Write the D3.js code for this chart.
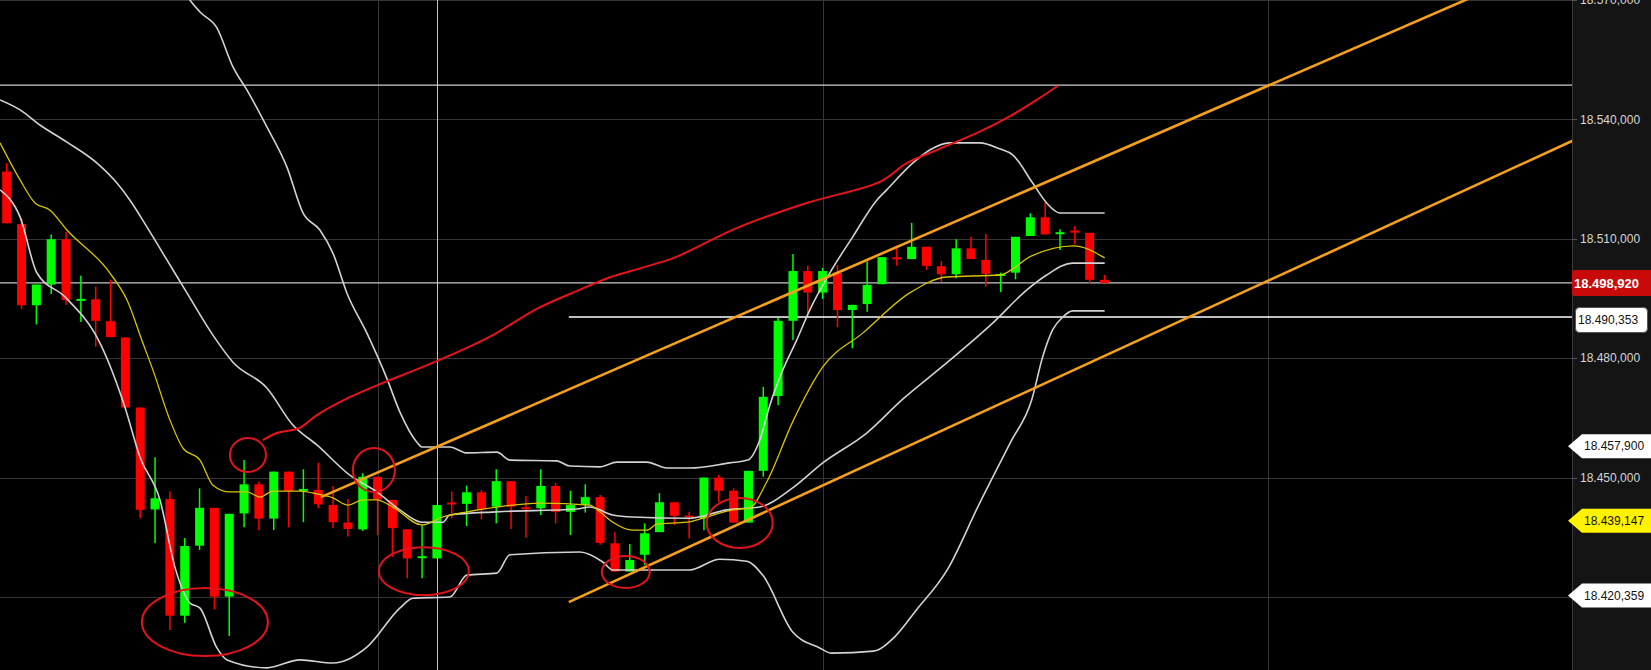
<!DOCTYPE html>
<html><head><meta charset="utf-8">
<script src="https://cdn.jsdelivr.net/npm/d3@7"></script>
<style>html,body{margin:0;padding:0;background:#000;overflow:hidden}</style>
</head><body><svg id="c" width="1651" height="670"></svg>
<script>
// ---------- data ----------
const opens  = [18526.9,18513.7,18493.3,18498.5,18509.9,18494.5,18494.8,18489.3,18485.2,18467.6,
18442.0,18444.6,18415.3,18432.9,18442.4,18420.1,18441.0,18448.3,18439.7,18451.5,
18446.8,18446.9,18443.1,18438.7,18437.0,18450.2,18444.4,18437.0,18429.8,18429.7,
18443.6,18443.4,18446.3,18442.7,18449.1,18442.4,18442.3,18447.9,18441.4,18443.1,
18445.1,18433.5,18426.4,18430.6,18436.3,18443.8,18440.3,18439.8,18450.0,18446.7,
18438.7,18451.7,18470.5,18489.4,18501.9,18496.5,18501.5,18492.1,18493.6,18498.6,
18505.2,18504.9,18508.0,18503.1,18501.1,18507.6,18504.7,18500.8,18501.5,18510.7,
18515.4,18511.3,18511.9,18511.5,18499.7];
const highs  = [18529.0,18515.2,18498.5,18511.1,18511.8,18500.7,18498.0,18499.7,18485.3,18467.6,
18455.1,18446.5,18434.8,18447.3,18442.4,18440.9,18454.4,18449.0,18451.5,18451.5,
18452.1,18453.7,18447.9,18444.6,18451.1,18450.2,18444.4,18437.0,18438.1,18443.1,
18446.5,18448.0,18446.9,18452.1,18449.1,18445.4,18452.1,18448.6,18446.7,18448.3,
18445.6,18436.3,18433.3,18438.5,18446.1,18443.8,18441.4,18450.0,18450.7,18447.3,
18451.7,18472.8,18490.1,18506.2,18503.2,18502.7,18503.4,18493.4,18504.3,18505.4,
18508.4,18514.0,18508.0,18504.4,18509.9,18510.5,18511.2,18501.5,18510.5,18516.4,
18519.3,18512.4,18513.2,18511.5,18500.9];
const lows   = [18513.9,18492.4,18488.5,18496.1,18493.4,18489.1,18482.9,18485.3,18467.6,18439.8,
18433.5,18411.7,18413.5,18431.8,18416.9,18410.2,18437.5,18436.8,18436.8,18437.5,
18438.8,18442.3,18437.3,18435.2,18436.6,18435.6,18430.1,18424.7,18424.7,18429.7,
18439.8,18437.8,18439.5,18438.5,18437.1,18434.9,18440.6,18438.5,18435.6,18441.2,
18433.1,18426.4,18426.4,18428.0,18436.3,18438.1,18434.7,18436.8,18443.9,18438.7,
18438.7,18450.2,18468.2,18484.6,18491.0,18494.9,18487.8,18482.5,18491.7,18498.6,
18503.2,18504.9,18502.2,18499.2,18500.1,18504.9,18498.0,18496.6,18499.8,18510.7,
18511.1,18507.2,18508.6,18498.8,18498.8];
const closes = [18513.9,18493.3,18498.5,18509.9,18494.6,18494.8,18489.4,18485.3,18467.6,18441.9,
18444.8,18415.3,18432.8,18442.4,18420.1,18440.9,18448.3,18439.7,18451.5,18446.6,
18447.0,18443.3,18438.8,18437.1,18450.2,18444.5,18437.3,18429.7,18430.2,18443.1,
18443.4,18446.3,18442.1,18449.1,18442.7,18442.2,18447.9,18441.4,18443.1,18445.1,
18433.6,18426.4,18429.3,18436.0,18443.8,18440.4,18440.1,18450.0,18446.7,18438.7,
18451.7,18470.3,18489.4,18501.9,18496.5,18501.9,18492.1,18493.4,18498.4,18505.4,
18505.0,18508.0,18503.2,18501.1,18507.6,18504.9,18501.2,18501.0,18510.5,18515.4,
18511.1,18511.5,18511.7,18499.7,18498.92];

// indicator lines: [bar index, price]
const upperBand = [[11.34,18576.3],[12.35,18570.0],[13.03,18567.0],[14.17,18563.0],[15.25,18553.2],[16.19,18547.4],
[17.54,18538.1],[18.89,18528.0],[19.97,18516.5],[21.11,18512.2],[21.99,18506.4],[22.93,18496.4],[24.28,18486.3],
[25.62,18475.0],[26.5,18466.5],[27.65,18458.9],[27.99,18457.7],[29.87,18457.7],[31.02,18456.2],[33.04,18456.4],
[33.92,18454.4],[37.08,18454.2],[37.96,18452.9],[39.98,18452.7],[41.13,18453.9],[43.15,18453.9],[44.5,18452.4],
[46.04,18452.4],[48.74,18453.7],[49.95,18454.4],[50.76,18459.4],[51.44,18468.2],[52.31,18477.0],[53.26,18484.6],
[54.13,18492.1],[55.48,18501.4],[57.03,18510.5],[58.65,18519.7],[59.32,18522.3],[61.07,18529.0],[62.22,18532.3],
[63.56,18534.1],[65.59,18534.1],[66.93,18532.6],[67.81,18531.1],[69.16,18524.0],[70.1,18519.0],[70.98,18516.5],
[74.01,18516.5]];
const middleBand = [[-0.45,18544.9],[0.9,18542.4],[2.24,18538.6],[4.06,18534.3],[6.09,18529.0],[7.43,18524.0],
[8.31,18519.7],[9.45,18513.0],[10.8,18504.7],[12.15,18496.4],[13.9,18485.8],[15.25,18479.0],[17.54,18472.5],
[19.29,18463.2],[20.91,18458.2],[23.13,18450.6],[24.95,18446.4],[26.5,18441.9],[27.99,18438.8],[29.4,18438.8],
[29.87,18440.6],[33.04,18441.4],[38.43,18442.1],[39.3,18442.6],[40.86,18440.6],[42.2,18440.1],[46.04,18439.8],
[48.54,18441.9],[50.76,18442.6],[52.98,18447.4],[55.01,18453.7],[57.97,18461.2],[60.4,18469.7],[63.36,18478.8],
[66.46,18488.8],[68.75,18497.1],[70.1,18500.9],[71.85,18503.9],[74.01,18503.9]];
const lowerBand = [[-0.45,18522.3],[0.9,18515.5],[2.04,18501.4],[3.93,18495.4],[6.29,18483.8],[7.97,18467.7],
[8.98,18455.2],[10.33,18444.4],[11.34,18427.5],[12.35,18418.5],[13.03,18417.2],[14.17,18407.2],[14.85,18404.2],
[17.54,18402.2],[19.77,18404.2],[21.99,18403.4],[24.28,18407.4],[26.5,18417.2],[27.38,18419.7],[29.87,18420.0],
[31.02,18425.5],[33.04,18426.0],[33.92,18430.6],[38.63,18431.3],[40.18,18428.8],[40.86,18426.8],[46.04,18426.8],
[48.07,18429.5],[49.89,18429.0],[50.96,18425.5],[52.98,18411.2],[54.8,18407.2],[55.61,18405.9],[58.44,18406.4],
[59.86,18410.0],[61.27,18416.5],[63.43,18427.0],[65.52,18443.1],[67.67,18458.9],[69.09,18469.5],[69.83,18480.3],
[70.5,18487.1],[71.18,18490.3],[71.85,18491.9],[74.01,18491.9]];
const fastMA = [[-0.45,18534.1],[0.9,18524.8],[1.91,18519.0],[2.92,18517.2],[4.06,18512.2],[6.96,18501.4],
[8.11,18494.6],[9.18,18483.8],[9.86,18477.0],[11.0,18464.5],[11.88,18457.4],[13.03,18454.4],[13.9,18448.1],
[15.05,18446.4],[16.19,18446.4],[17.07,18445.1],[17.95,18446.6],[19.77,18446.6],[20.91,18445.9],[21.99,18444.9],
[23.0,18443.1],[24.01,18444.4],[24.95,18444.4],[26.03,18442.6],[27.99,18438.1],[29.4,18440.1],[31.02,18441.4],
[33.04,18442.6],[35.94,18443.6],[39.3,18443.1],[39.98,18441.4],[40.86,18438.8],[42.2,18436.8],[43.15,18436.8],
[43.82,18438.3],[45.84,18438.8],[47.19,18440.1],[48.94,18441.9],[50.09,18442.4],[51.23,18448.9],[52.98,18464.0],
[55.01,18477.8],[57.7,18486.3],[60.87,18496.4],[63.36,18500.4],[66.93,18500.9],[69.09,18505.7],[71.92,18508.2],
[74.01,18505.2]];
const drawnCurve = [[17.27,18459.4],[18.21,18461.2],[19.76,18462.5],[20.91,18465.7],[23.13,18470.2],[25.36,18473.8],
[27.85,18477.5],[31.02,18482.6],[32.77,18485.8],[35.74,18492.4],[38.57,18497.1],[40.72,18500.4],[42.81,18502.7],
[44.97,18505.2],[49.21,18512.7],[53.93,18519.0],[58.85,18524.3],[60.67,18529.0],[62.69,18532.3],[65.52,18536.8],
[67.67,18540.9],[69.43,18544.9],[70.84,18548.4]];
const upperTrend = [[21.18,18445.1],[100.0,18572.7]];
const lowerTrend = [[37.89,18418.7],[106.0,18535.4]];
const circleMarks = [[13.36,18413.7],[16.26,18455.7],[24.75,18451.9],[28.12,18426.5],[41.73,18426.3],[49.41,18438.6]];
const tickValues = [18420,18450,18480,18510,18540,18570];
const fullLines = [18548.6];
const lastPrice = 18498.92;
const levelLine = {start:37.89, value:18490.353};
const flagValues = [18457.9,18439.147,18420.359];
const flagKinds  = ["white","yellow","white"];
const gridBars = [25,55,85];
const markerBar = 29;

// ---------- layout ----------
const W=1651,H=670, axisX=1572;
const svg=d3.select("#c");
const x=d3.scaleLinear().domain([0,74]).range([6.7,1104.5]);
const y=d3.scaleLinear().domain([18420,18570]).range([597,0]);
const loc=d3.formatLocale({decimal:",",thousands:".",grouping:[3],currency:["",""]});
const fmt=loc.format(",.3f");

svg.append("rect").attr("width",W).attr("height",H).attr("fill","#000");
svg.append("defs").append("clipPath").attr("id","plot").append("rect")
  .attr("x",0).attr("y",0).attr("width",axisX).attr("height",H);
const g=svg.append("g").attr("clip-path","url(#plot)");

// grid
g.selectAll("line.hg").data(tickValues).join("line").attr("class","hg")
  .attr("x1",0).attr("x2",axisX).attr("y1",d=>Math.round(y(d))+0.5).attr("y2",d=>Math.round(y(d))+0.5)
  .attr("stroke","#363636").attr("stroke-width",1);
g.selectAll("line.vg").data(gridBars).join("line").attr("class","vg")
  .attr("x1",d=>Math.round(x(d))+0.5).attr("x2",d=>Math.round(x(d))+0.5).attr("y1",0).attr("y2",H)
  .attr("stroke","#363636").attr("stroke-width",1);
g.append("line").attr("x1",Math.round(x(markerBar))+0.5).attr("x2",Math.round(x(markerBar))+0.5)
  .attr("y1",0).attr("y2",H).attr("stroke","#c4c4c4").attr("stroke-width",1);

// horizontal lines
g.selectAll("line.fl").data(fullLines).join("line").attr("class","fl")
  .attr("x1",0).attr("x2",axisX).attr("y1",d=>y(d)).attr("y2",d=>y(d))
  .attr("stroke","#cfcfcf").attr("stroke-width",1.2);
g.append("line").attr("x1",0).attr("x2",axisX).attr("y1",y(lastPrice)).attr("y2",y(lastPrice))
  .attr("stroke","#c8c8c8").attr("stroke-width",1.2);
g.append("line").attr("x1",x(levelLine.start)).attr("x2",axisX).attr("y1",y(levelLine.value)).attr("y2",y(levelLine.value))
  .attr("stroke","#ffffff").attr("stroke-width",1.6);

// candles
const idx=d3.range(opens.length);
const cg=g.append("g");
cg.selectAll("line.wick").data(idx).join("line").attr("class","wick")
  .attr("x1",i=>x(i)).attr("x2",i=>x(i)).attr("y1",i=>y(highs[i])).attr("y2",i=>y(lows[i]))
  .attr("stroke",i=>closes[i]>=opens[i]?"#00ff00":"#ff0000").attr("stroke-width",1.5);
cg.selectAll("rect.body").data(idx).join("rect").attr("class","body")
  .attr("x",i=>x(i)-4.5).attr("width",9)
  .attr("y",i=>{const t=y(Math.max(opens[i],closes[i])),b=y(Math.min(opens[i],closes[i]));return b-t<2?(t+b)/2-1:t;})
  .attr("height",i=>Math.max(2,y(Math.min(opens[i],closes[i]))-y(Math.max(opens[i],closes[i]))))
  .attr("fill",i=>closes[i]>=opens[i]?"#00ff00":"#ff0000");

// indicator lines
const line=d3.line().x(d=>x(d[0])).y(d=>y(d[1])).curve(d3.curveMonotoneX);
[[upperBand,"#d2d2d2"],[middleBand,"#d2d2d2"],[lowerBand,"#d2d2d2"]].forEach(([d,c])=>{
  g.append("path").attr("d",line(d)).attr("fill","none").attr("stroke",c).attr("stroke-width",1.6);
});
g.append("path").attr("d",line(fastMA)).attr("fill","none").attr("stroke","#d8c400").attr("stroke-width",1.3);

// trend lines
const straight=d3.line().x(d=>x(d[0])).y(d=>y(d[1]));
[upperTrend,lowerTrend].forEach(d=>{
  g.append("path").attr("d",straight(d)).attr("fill","none").attr("stroke","#f5a01a").attr("stroke-width",2.6);
});

// hand drawn annotations
g.append("path").attr("d",d3.line().x(d=>x(d[0])).y(d=>y(d[1])).curve(d3.curveCatmullRom)(drawnCurve))
  .attr("fill","none").attr("stroke","#e8141c").attr("stroke-width",2);
const radii=[[63,34],[18,17],[21,22],[45,24],[24,16],[33,25]];
g.selectAll("ellipse.mk").data(circleMarks).join("ellipse").attr("class","mk")
  .attr("cx",d=>x(d[0])).attr("cy",d=>y(d[1]))
  .attr("rx",(d,k)=>radii[k][0]).attr("ry",(d,k)=>radii[k][1])
  .attr("fill","none").attr("stroke","#e0141c").attr("stroke-width",2);

// right axis
const ax=svg.append("g");
ax.append("rect").attr("x",axisX).attr("y",0).attr("width",W-axisX).attr("height",H).attr("fill","#141414");
ax.append("line").attr("x1",axisX+0.5).attr("x2",axisX+0.5).attr("y1",0).attr("y2",H).attr("stroke","#3a3a3a");
ax.selectAll("line.tk").data(tickValues).join("line").attr("class","tk")
  .attr("x1",axisX).attr("x2",axisX+5).attr("y1",d=>Math.round(y(d))+0.5).attr("y2",d=>Math.round(y(d))+0.5)
  .attr("stroke","#555");
// tick labels hidden under a price flag are not drawn (as in the original)
const visibleTicks=tickValues.filter(t=>flagValues.every(f=>Math.abs(y(t)-y(f))>14));
ax.selectAll("text.tl").data(visibleTicks).join("text").attr("class","tl")
  .attr("x",1580).attr("y",d=>y(d)).attr("dy","0.35em")
  .attr("font-family","Liberation Sans, Arial, sans-serif").attr("font-size",12).attr("fill","#d6d6d6")
  .text(d=>fmt(d));

// flags
const flag=(v,kind)=>{
  const cy=y(v), h=12;
  ax.append("path").attr("d",`M1568,${cy} L1582,${cy-h} L${W},${cy-h} L${W},${cy+h} L1582,${cy+h} Z`)
    .attr("fill",kind==="yellow"?"#fff200":"#ffffff");
  ax.append("text").attr("x",1584).attr("y",cy).attr("dy","0.35em")
    .attr("font-family","Liberation Sans, Arial, sans-serif").attr("font-size",12).attr("fill","#111")
    .text(fmt(v));
};
flagValues.forEach((v,k)=>flag(v,flagKinds[k]));

// level box
{
  const cy=y(levelLine.value)+3;
  ax.append("rect").attr("x",1575.5).attr("y",cy-12.5).attr("width",72).attr("height",25).attr("rx",4)
    .attr("fill","#fff").attr("stroke","#555");
  ax.append("text").attr("x",1578).attr("y",cy).attr("dy","0.35em")
    .attr("font-family","Liberation Sans, Arial, sans-serif").attr("font-size",12).attr("fill","#111")
    .text(fmt(levelLine.value));
}
// last price box
{
  const cy=y(lastPrice);
  ax.append("rect").attr("x",axisX).attr("y",cy-13).attr("width",W-axisX+4).attr("height",26).attr("rx",3)
    .attr("fill","#c80a0a");
  ax.append("text").attr("x",1574).attr("y",cy).attr("dy","0.36em")
    .attr("font-family","Liberation Sans, Arial, sans-serif").attr("font-size",13).attr("font-weight","bold")
    .attr("fill","#fff").text(fmt(lastPrice));
}
</script></body></html>
